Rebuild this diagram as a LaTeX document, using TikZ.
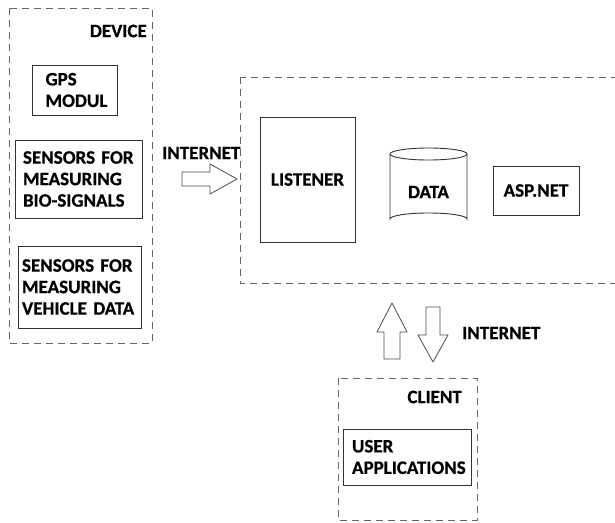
\documentclass[tikz,border=0pt]{standalone}
\usepackage{fontspec}
\setmainfont{Carlito}[BoldFont={Carlito Bold}, BoldFeatures={FakeBold=0.6}]
\usetikzlibrary{positioning}

\begin{document}
\begin{tikzpicture}[x=1pt, y=-1pt,
        lbl/.style={font=\fontsize{19}{21.5}\selectfont\bfseries, inner sep=0pt},
        part/.style={draw=black!80, line width=0.9pt, lbl, align=left, inner ysep=2pt},
        zone/.style={draw=black!60, line width=0.9pt, dash pattern=on 7pt off 5pt},
        fat/.style={draw=black!70, line width=0.8pt, line join=round}
    ]
        \useasboundingbox (0,0) rectangle (615,522);

        % device
        \draw[zone] (9,8) rectangle (152,343);
        \node[lbl, anchor=east] (device) at (147,31) {DEVICE};
        \node[part, inner xsep=13pt, text width=59pt, minimum height=50pt] (gps) at (75,90) {GPS\\MODUL};
        \node[part, inner xsep=8pt, text width=111pt, minimum height=78pt] (bio) at (78.5,179) {SENSORS FOR\\MEASURING\\BIO-SIGNALS};
        \node[part, inner xsep=4pt, text width=115pt, minimum height=82pt] (vehicle) at (79.5,287) {SENSORS FOR\\MEASURING\\VEHICLE DATA};

        % server
        \draw[zone] (240,77) rectangle (625,283);
        \node[part, align=center, minimum width=95pt, minimum height=125pt] (listener) at (307.5,179.5) {LISTENER};
        \draw[draw=black!80, line width=0.9pt] (390,154) -- (390,219) arc[start angle=180, end angle=360, x radius=38.5, y radius=6] -- (467,154);
        \draw[draw=black!80, line width=0.9pt] (428.5,154) ellipse[x radius=38.5, y radius=6];
        \node[lbl] (data) at (428.5,192) {DATA};
        \node[part, align=center, minimum width=86pt, minimum height=49pt] (asp) at (536,190.5) {ASP.NET};

        % links
        \node[lbl, anchor=west] (net1) at (162,153) {INTERNET};
        \coordinate (r) at (182,179);
        \draw[fat] (r) ++(0,-7) -- ++(28,0) -- ++(0,-8) -- ++(27,15) -- ++(-27,15) -- ++(0,-8) -- ++(-28,0) -- cycle;
        \coordinate (u) at (392,359);
        \draw[fat] (u) ++(-8,0) -- ++(0,-27) -- ++(-7,0) -- ++(15,-29) -- ++(15,29) -- ++(-7,0) -- ++(0,27) -- cycle;
        \coordinate (d) at (433.5,307);
        \draw[fat] (d) ++(-7.5,0) -- ++(0,28) -- ++(-8,0) -- ++(15,27) -- ++(15,-27) -- ++(-8,0) -- ++(0,-28) -- cycle;
        \node[lbl, anchor=west] (net2) at (462,333) {INTERNET};

        % client
        \draw[zone] (338,378) rectangle (477,520);
        \node[lbl, anchor=east] (client) at (462,397) {CLIENT};
        \node[part, inner xsep=9pt, text width=110pt, minimum height=56pt] (apps) at (407,457) {USER\\APPLICATIONS};
    \end{tikzpicture}
\end{document}
